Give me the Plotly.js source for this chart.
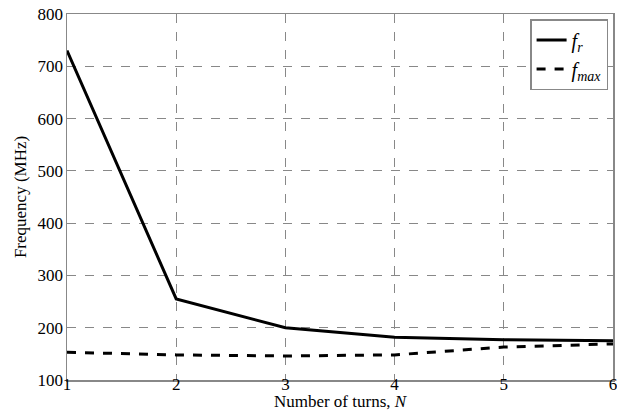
<!DOCTYPE html>
<html><head><meta charset="utf-8">
<script src="https://cdn.plot.ly/plotly-3.0.1.min.js"></script>
<style>body{margin:0;background:#fff}</style>
</head><body>
<div id="chart" style="width:617px;height:411px"></div>
<script>
const turns = [1, 2, 3, 4, 5, 6];
const fr = [730, 255, 200, 182, 177, 175];
const fmax = [153, 148, 146, 148, 163, 169];
const yTicks = [100, 200, 300, 400, 500, 600, 700, 800];

const serif = 'Liberation Serif, Times New Roman, serif';
const font = {family: serif, color: '#000'};
const traces = [
  {x: turns, y: fr, mode: 'lines', name: '<i>f</i><sub><i>r</i></sub>', line: {color: '#000', width: 3}},
  {x: turns, y: fmax, mode: 'lines', name: '<i>f</i><sub><i>max</i></sub>', line: {color: '#000', width: 3, dash: 'dash'}}
];
const axisCommon = {
  showline: true, mirror: true, linecolor: '#888', linewidth: 1.5,
  showgrid: true, gridcolor: '#888', griddash: 'dash', gridwidth: 1,
  zeroline: false, ticks: '', ticklen: 0, tickfont: {family: serif, color: '#000', size: 17},
  automargin: false, ticklabeloverflow: 'allow'
};
const layout = {
  width: 617, height: 411,
  margin: {l: 67, r: 4, t: 14, b: 31},
  paper_bgcolor: '#fff', plot_bgcolor: '#fff',
  font: font,
  showlegend: true,
  legend: {x: 0.991, y: 0.986, xanchor: 'right', yanchor: 'top', bgcolor: '#fff', bordercolor: '#888', borderwidth: 1.5,
    font: {family: serif, color: '#000', size: 20}, tracegroupgap: 0},
  xaxis: {...axisCommon, range: [1, 6], tickvals: turns, ticktext: turns.map(String), ticklabelstandoff: -12,
    title: {text: 'Number of turns, <i>N</i>', font: {family: serif, color: '#000', size: 17}, standoff: 6}},
  yaxis: {...axisCommon, range: [100, 800], tickvals: yTicks, ticktext: yTicks.map(String), ticklabelstandoff: -1,
    title: {text: 'Frequency (MHz)', font: {family: serif, color: '#000', size: 17}, standoff: 6}}
};
Plotly.newPlot('chart', traces, layout, {displayModeBar: false, staticPlot: true});
</script>
</body></html>
